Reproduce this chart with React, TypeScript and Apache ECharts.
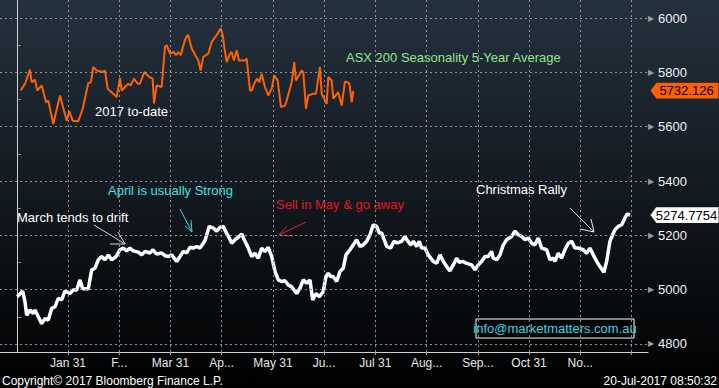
import React, { useEffect, useRef } from 'react';
import * as echarts from 'echarts';

// x values are positions in months from the start of the year (1 = Jan 31, 12 = Dec 31)
const monthPositions = [1, 2, 3, 4, 5, 6, 7, 8, 9, 10, 11, 12];
const monthLabels = ['Jan 31', 'F...', 'Mar 31', 'Ap...', 'May 31', 'Ju...', 'Jul 31', 'Aug...', 'Sep...', 'Oct 31', 'No...'];
const priceTicks = [4800, 5000, 5200, 5400, 5600, 5800, 6000];
const minorPriceTicks = [4900, 5100, 5300, 5500, 5700, 5900];

// ASX 200 Seasonality 5-Year Average
const avgX = [0.010, 0.116, 0.161, 0.194, 0.258, 0.323, 0.356, 0.420, 0.487, 0.551, 0.615, 0.682, 0.746, 0.811, 0.877, 0.941, 1.039, 1.103, 1.170, 1.234, 1.287, 1.332, 1.396, 1.463, 1.527, 1.591, 1.658, 1.722, 1.787, 1.853, 1.937, 2.015, 2.079, 2.146, 2.210, 2.275, 2.372, 2.439, 2.503, 2.601, 2.653, 2.731, 2.829, 2.893, 2.958, 3.024, 3.122, 3.186, 3.251, 3.317, 3.381, 3.446, 3.512, 3.577, 3.674, 3.758, 3.836, 3.903, 3.967, 4.031, 4.084, 4.149, 4.195, 4.260, 4.324, 4.391, 4.455, 4.519, 4.586, 4.650, 4.715, 4.781, 4.845, 4.910, 4.976, 5.041, 5.105, 5.171, 5.236, 5.300, 5.367, 5.464, 5.528, 5.593, 5.659, 5.724, 5.776, 5.841, 5.905, 5.983, 6.036, 6.081, 6.128, 6.179, 6.245, 6.309, 6.374, 6.427, 6.505, 6.569, 6.635, 6.700, 6.764, 6.831, 6.895, 6.959, 7.026, 7.076, 7.123, 7.221, 7.299, 7.363, 7.428, 7.514, 7.578, 7.611, 7.690, 7.741, 7.806, 7.857, 7.904, 7.969, 8.033, 8.131, 8.197, 8.261, 8.326, 8.392, 8.456, 8.521, 8.586, 8.637, 8.704, 8.783, 8.880, 8.945, 9.009, 9.075, 9.140, 9.204, 9.270, 9.301, 9.368, 9.432, 9.497, 9.563, 9.661, 9.725, 9.790, 9.856, 9.921, 9.985, 10.051, 10.116, 10.180, 10.246, 10.344, 10.408, 10.473, 10.506, 10.570, 10.636, 10.700, 10.766, 10.832, 10.896, 10.961, 11.058, 11.124, 11.188, 11.253, 11.320, 11.384, 11.462, 11.515, 11.579, 11.632, 11.677, 11.742, 11.808, 11.872, 11.917, 11.970];
const avgY = [4974, 4995, 4955, 4906, 4925, 4912, 4925, 4900, 4875, 4894, 4888, 4931, 4937, 4968, 4962, 4995, 4986, 4999, 4999, 5036, 5003, 5003, 5003, 5073, 5079, 5110, 5122, 5110, 5128, 5110, 5122, 5147, 5153, 5143, 5153, 5143, 5138, 5128, 5141, 5135, 5147, 5131, 5135, 5125, 5122, 5128, 5104, 5122, 5141, 5135, 5156, 5153, 5159, 5153, 5180, 5233, 5227, 5215, 5230, 5233, 5212, 5190, 5171, 5184, 5193, 5205, 5178, 5153, 5122, 5134, 5116, 5153, 5140, 5156, 5122, 5067, 5036, 5030, 5033, 5017, 5011, 4986, 5005, 5036, 5024, 5036, 4962, 4986, 4974, 4993, 5048, 5060, 5048, 5048, 5030, 5067, 5079, 5128, 5147, 5165, 5184, 5159, 5165, 5178, 5202, 5239, 5233, 5209, 5209, 5159, 5153, 5178, 5172, 5178, 5196, 5184, 5165, 5178, 5159, 5178, 5153, 5153, 5128, 5104, 5097, 5128, 5104, 5085, 5069, 5091, 5116, 5101, 5104, 5097, 5091, 5073, 5091, 5104, 5122, 5122, 5141, 5116, 5110, 5128, 5165, 5184, 5196, 5215, 5202, 5196, 5184, 5190, 5171, 5165, 5190, 5153, 5147, 5110, 5116, 5104, 5134, 5116, 5147, 5171, 5178, 5153, 5153, 5147, 5134, 5153, 5128, 5104, 5085, 5064, 5104, 5178, 5202, 5221, 5233, 5239, 5264, 5279, 5274.7754];

// 2017 to-date
const ytdX = [0.077, 0.161, 0.258, 0.291, 0.356, 0.401, 0.487, 0.571, 0.615, 0.713, 0.844, 0.975, 1.025, 1.092, 1.201, 1.287, 1.396, 1.449, 1.494, 1.560, 1.677, 1.722, 1.775, 1.884, 1.951, 2.015, 2.048, 2.177, 2.224, 2.288, 2.361, 2.405, 2.489, 2.587, 2.653, 2.679, 2.731, 2.829, 2.893, 2.927, 2.991, 3.069, 3.108, 3.153, 3.200, 3.283, 3.329, 3.348, 3.415, 3.543, 3.590, 3.641, 3.739, 3.805, 3.903, 3.981, 4.020, 4.051, 4.098, 4.162, 4.195, 4.240, 4.293, 4.338, 4.455, 4.488, 4.553, 4.586, 4.650, 4.695, 4.734, 4.781, 4.845, 4.910, 4.976, 5.027, 5.093, 5.158, 5.236, 5.269, 5.367, 5.417, 5.450, 5.562, 5.593, 5.646, 5.691, 5.777, 5.841, 5.919, 5.952, 6.050, 6.081, 6.147, 6.179, 6.276, 6.343, 6.407, 6.491, 6.538, 6.569];
const ytdY = [5733, 5758, 5810, 5764, 5773, 5733, 5752, 5690, 5696, 5610, 5715, 5622, 5657, 5622, 5620, 5666, 5760, 5764, 5820, 5807, 5801, 5807, 5740, 5721, 5709, 5780, 5733, 5758, 5752, 5777, 5758, 5758, 5801, 5783, 5777, 5686, 5752, 5746, 5894, 5900, 5869, 5875, 5863, 5875, 5863, 5919, 5937, 5937, 5888, 5844, 5807, 5857, 5869, 5912, 5937, 5962, 5937, 5894, 5838, 5869, 5875, 5844, 5881, 5844, 5844, 5851, 5733, 5733, 5764, 5777, 5764, 5795, 5746, 5715, 5740, 5789, 5770, 5672, 5678, 5696, 5764, 5838, 5770, 5807, 5801, 5666, 5715, 5721, 5721, 5820, 5721, 5684, 5783, 5770, 5703, 5727, 5678, 5767, 5760, 5690, 5732.126];

const X_MIN = -0.327;
const X_MAX = 12.322;
const Y_MIN = 4770.5;
const Y_MAX = 6066.4;

const ORANGE = '#ff6000';
const AXIS_FONT = 'Liberation Sans';

function tag(value: number, text: string, fill: string) {
  return {
    symbol: 'path://M0,8 L6,0 L70,0 L70,16 L6,16 Z',
    symbolSize: [69, 16],
    symbolKeepAspect: false,
    symbolOffset: [36.5, 0],
    silent: true,
    label: { show: false },
    data: [
      {
        coord: [X_MAX, value],
        itemStyle: { color: fill, borderColor: '#222', borderWidth: 0.5 },
        label: {
          show: true,
          position: 'inside',
          offset: [2, 0],
          formatter: text,
          color: '#000',
          fontSize: 13,
          fontFamily: AXIS_FONT,
        },
      },
    ],
  };
}

function arrow(tail: number[], tip: number[], w1: number[], w2: number[], color: string) {
  return [
    { type: 'polyline', silent: true, shape: { points: [tail, tip] }, style: { stroke: color, lineWidth: 1, fill: null } },
    { type: 'polyline', silent: true, shape: { points: [w1, tip, w2] }, style: { stroke: color, lineWidth: 1, fill: null } },
  ];
}

function label(text: string, x: number, y: number, color: string, size = 13, align = 'left') {
  return {
    type: 'text',
    silent: true,
    x,
    y,
    style: { text, fill: color, fontSize: size, fontFamily: 'Liberation Sans', align, verticalAlign: 'middle' },
  };
}

export default function App() {
  const ref = useRef<HTMLDivElement>(null);

  useEffect(() => {
    document.body.style.margin = '0';
    document.body.style.background = '#000';
    if (!ref.current) return;
    const chart = echarts.init(ref.current, null, { renderer: 'svg' });

    const avgData = avgX.map((x, i) => [x, avgY[i]]);
    const ytdData = ytdX.map((x, i) => [x, ytdY[i]]);
    const gridStyle = { type: [2, 3], color: '#8e9499', width: 1 };

    chart.setOption({
      animation: false,
      backgroundColor: new echarts.graphic.LinearGradient(0, 0, 0, 1, [
        { offset: 0, color: '#24313e' },
        { offset: 1, color: '#000000' },
      ]),
      grid: { left: 0, right: 71, top: 0, bottom: 36, containLabel: false },
      xAxis: {
        type: 'value',
        min: X_MIN,
        max: X_MAX,
        axisLine: { show: true, lineStyle: { color: '#d0d0d0', width: 1 } },
        axisTick: { show: true, customValues: monthPositions, length: 3, lineStyle: { color: '#9a9a9a' } },
        splitLine: { show: false },
        axisLabel: {
          show: true,
          customValues: monthPositions.slice(0, monthLabels.length),
          formatter: (v: number) => monthLabels[Math.round(v) - 1] ?? '',
          color: '#e8e8e8',
          fontSize: 12,
          fontFamily: AXIS_FONT,
          margin: 5,
        },
      },
      yAxis: {
        type: 'value',
        position: 'right',
        min: Y_MIN,
        max: Y_MAX,
        axisLine: { show: true, lineStyle: { color: '#d0d0d0', width: 1 } },
        axisTick: { show: true, inside: false, customValues: minorPriceTicks, length: 4, lineStyle: { color: '#9a9a9a' } },
        splitLine: { show: false },
        axisLabel: {
          show: true,
          customValues: priceTicks,
          margin: 0,
          formatter: (v: number) => `{t|▶}{v|${v}}`,
          rich: {
            t: { fontSize: 8, color: '#9a9a9a', fontFamily: 'DejaVu Sans', width: 10 },
            v: { fontSize: 13, color: '#eef2f6', fontFamily: AXIS_FONT },
          },
        },
      },
      series: [
        {
          type: 'line',
          name: 'grid',
          data: [],
          z: 1,
          silent: true,
          markLine: {
            silent: true,
            symbol: 'none',
            label: { show: false },
            lineStyle: gridStyle,
            data: [
              ...monthPositions.map((m) => ({ xAxis: m })),
              ...priceTicks.map((p) => ({ yAxis: p })),
            ],
          },
        },
        {
          type: 'line',
          name: 'ASX 200 Seasonality 5-Year Average',
          data: avgData,
          showSymbol: false,
          z: 3,
          lineStyle: { color: '#ffffff', width: 3.5 },
          itemStyle: { color: '#ffffff' },
          markPoint: tag(avgY[avgY.length - 1], String(avgY[avgY.length - 1]), '#ffffff'),
        },
        {
          type: 'line',
          name: '2017 to-date',
          data: ytdData,
          showSymbol: false,
          z: 3,
          lineStyle: { color: ORANGE, width: 2 },
          itemStyle: { color: ORANGE },
          markPoint: tag(ytdY[ytdY.length - 1], String(ytdY[ytdY.length - 1]), ORANGE),
        },
      ],
      graphic: [
        label('ASX 200 Seasonality 5-Year Average', 346, 57, '#8ee68e'),
        label('2017 to-date', 95, 111, '#ffffff'),
        label('April is usually Strong', 108, 190, '#3fe0e0'),
        label('March tends to drift', 17, 217, '#ffffff'),
        label('Sell in May & go away', 276, 204, '#e8141e'),
        label('Christmas Rally', 476, 189, '#ffffff'),
        ...arrow([94, 225], [125, 244], [118, 232], [110, 244], '#d8d8d8'),
        ...arrow([180, 209], [192, 232], [191, 220], [185, 226], '#3fd0d0'),
        ...arrow([306, 222], [279, 235], [287, 226], [293, 236], '#e0203a'),
        ...arrow([570, 208], [594, 232], [591, 219], [580, 229], '#e8e8e8'),
        {
          type: 'rect',
          silent: true,
          shape: { x: 476, y: 319, width: 158, height: 19 },
          style: { fill: '#000', stroke: '#ffffff', lineWidth: 1 },
        },
        label('info@marketmatters.com.au', 555, 328.5, '#38d8ea', 13, 'center'),
        label('Copyright© 2017 Bloomberg Finance L.P.', 2, 381, '#ffffff', 12),
        label('20-Jul-2017 08:50:32', 717, 381, '#ffffff', 12, 'right'),
      ],
    });

    return () => chart.dispose();
  }, []);

  return <div ref={ref} style={{ width: 719, height: 388 }} />;
}
